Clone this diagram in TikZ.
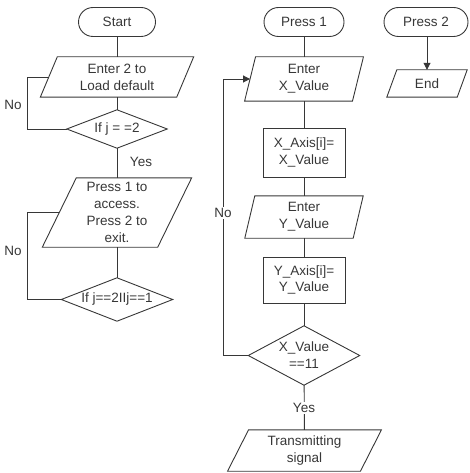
\documentclass[tikz,border=0pt]{standalone}
\usepackage{fontspec}
\setmainfont{Liberation Sans}
\usetikzlibrary{arrows.meta}
\definecolor{ink}{RGB}{55,55,55}
\newcommand{\pgram}[2]{\draw[ln] ([xshift=#2]#1.north west) -- ([xshift=#2]#1.north east) -- ([xshift=-#2]#1.south east) -- ([xshift=-#2]#1.south west) -- cycle;}
\newcommand{\dmd}[1]{\draw[ln] (#1.north) -- (#1.east) -- (#1.south) -- (#1.west) -- cycle;}
\begin{document}
\begin{tikzpicture}[x=1pt,y=1pt,
  every node/.style={font=\fontsize{13.5}{16.8}\selectfont, text=ink, align=center, inner sep=0pt},
  ln/.style={draw=ink, line width=0.9pt},
  term/.style={ln, rounded corners=14.5pt, minimum height=29pt},
  box/.style={minimum width=#1},
  rectbox/.style={ln, minimum width=82pt},
  lbl/.style={fill=white, inner sep=1pt},
  arr/.style={ln, -{Triangle[length=7pt,width=7pt]}}]
\useasboundingbox (0,0) rectangle (469,-473);
% left column
\node[term, minimum width=77pt] (start) at (117,-22) {Start};
\node[minimum width=136pt, minimum height=40pt] (in1) at (117,-77) {Enter 2 to\\Load default};
\pgram{in1}{8.5pt}
\node[minimum width=100pt, minimum height=38pt] (d1) at (117,-129) {If j = =2};
\dmd{d1}
\node[minimum width=115pt, minimum height=69pt] (in2) at (117,-212.5) {Press 1 to\\access.\\Press 2 to\\exit.};
\pgram{in2}{17pt}
\node[minimum width=111pt, minimum height=43pt] (d2) at (117,-299.5) {If j==2IIj==1};
\dmd{d2}
\node (no1) at (13,-105) {No};
\node (yes1) at (141,-162) {Yes};
\node (no2) at (13,-251) {No};
\draw[ln] (start) -- (in1);
\draw[ln] (in1) -- (d1);
\draw[ln] (d1) -- (in2);
\draw[ln] (in2) -- (d2);
\draw[ln] (d1.west) -- (27,-129) |- (in1.west);
\draw[ln] (d2.west) -- (27,-299.5) |- (in2.west);
% middle column
\node[term, minimum width=80pt] (p1) at (304,-22) {Press 1};
\node[minimum width=107.5pt, minimum height=44pt] (ix) at (304,-79) {Enter\\X\_Value};
\pgram{ix}{5.5pt}
\node[rectbox, minimum height=49pt] (ax) at (304,-152.5) {X\_Axis[i]=\\X\_Value};
\node[minimum width=108pt, minimum height=42pt] (iy) at (304,-217) {Enter\\Y\_Value};
\pgram{iy}{5pt}
\node[rectbox, minimum height=46pt] (ay) at (304,-280) {Y\_Axis[i]=\\Y\_Value};
\node[minimum width=111pt, minimum height=59pt] (d3) at (304,-355.5) {X\_Value\\==11};
\dmd{d3}
\node[minimum width=132.5pt, minimum height=41pt] (tx) at (304.5,-450.5) {Transmitting\\signal};
\pgram{tx}{10.5pt}
\draw[ln] (p1) -- (ix);
\draw[ln] (ix) -- (ax);
\draw[ln] (ax) -- (iy);
\draw[ln] (iy) -- (ay);
\draw[ln] (ay) -- (d3);
\draw[ln] (d3) -- (tx);
\draw[arr] (d3.west) -- (223,-355.5) |- (ix.west);
\node[lbl] (no3) at (223,-213) {No};
\node[lbl] (yes3) at (304,-408) {Yes};
% right column
\node[term, minimum width=84pt] (p2) at (426,-22) {Press 2};
\node[minimum width=70pt, minimum height=27pt] (en) at (427,-83.5) {End};
\pgram{en}{5pt}
\draw[arr] (p2.south -| en.north) -- (en.north);
\end{tikzpicture}
\end{document}
